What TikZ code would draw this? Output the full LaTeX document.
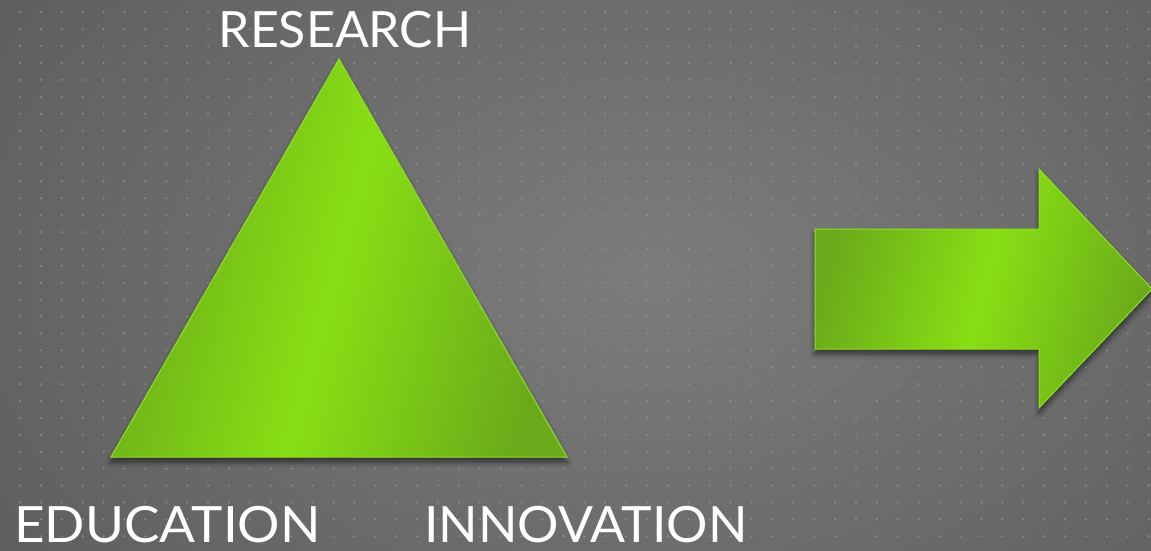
\documentclass[tikz,border=0pt]{standalone}
\usepackage{fontspec}
\setmainfont{Lato}
\usetikzlibrary{shadows.blur}
\definecolor{bgmid}{HTML}{7C7C7C}
\definecolor{bgedge}{HTML}{585858}
\definecolor{dotc}{HTML}{939393}
\definecolor{greenD}{HTML}{6AAA1A}
\definecolor{greenL}{HTML}{88DF14}
\definecolor{greenE}{HTML}{8FE21E}
\tikzset{
  label text/.style={text=white, inner sep=0pt, font=\fontsize{50}{50}\selectfont},
  green shape/.style={left color=greenD, right color=greenD, middle color=greenL,
    shading angle=75, draw=greenE, line width=1pt,
    blur shadow={shadow xshift=0pt, shadow yshift=-5pt, shadow blur radius=5pt,
      shadow blur steps=8, shadow opacity=55}},
}
\begin{document}
\begin{tikzpicture}[x=1pt,y=-1pt]
  \useasboundingbox (0,0) rectangle (1151,550);
  % background with soft vignette
  \shade[inner color=bgmid, outer color=bgedge] (-300,-350) rectangle (1600,900);
  \clip (0,0) rectangle (1151,550);
  % dot grid
  \foreach \i in {0,...,55} {
    \foreach \j in {0,...,32} {
      \fill[dotc, opacity=0.8] ({20+20.9*\i},{12.3+16.9*\j}) circle (1.2);
    }
  }
  % triangle
  \path[green shape] (339,59) -- (567,457) -- (111,457) -- cycle;
  % arrow
  \path[green shape] (815,229) -- (1039,229) -- (1039,169) -- (1152,289)
    -- (1039,408) -- (1039,349) -- (815,349) -- cycle;
  % labels
  \node[label text, anchor=base] (research) at (345,47) {RESEARCH};
  \node[label text, anchor=base west, xscale=1.06] (education) at (14,542) {EDUCATION};
  \node[label text, anchor=base west, xscale=1.035] (innovation) at (424,542) {INNOVATION};
\end{tikzpicture}
\end{document}
